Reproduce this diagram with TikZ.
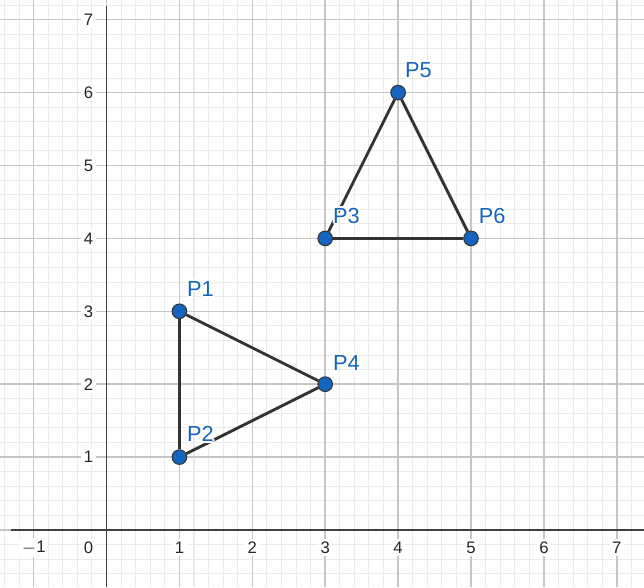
\documentclass[tikz,border=0pt]{standalone}
\usepackage{fontspec}
\setmainfont{Liberation Sans}
\usetikzlibrary{positioning}
\definecolor{ptblue}{RGB}{21,101,192}
% white halo behind point labels
\newcommand\halotext[1]{%
  \rlap{\color{white}\foreach \hx/\hy in {0.7pt/0pt,-0.7pt/0pt,0pt/0.7pt,0pt/-0.7pt,0.5pt/0.5pt,-0.5pt/0.5pt,0.5pt/-0.5pt,-0.5pt/-0.5pt}{\rlap{\kern\hx\raisebox{\hy}{#1}}}}#1}
\tikzset{
  minorgrid/.style={gray!16, line width=0.4pt},
  majorgrid/.style={gray!45, line width=0.6pt},
  axisline/.style={black!75, line width=0.5pt},
  ticklabel/.style={fill=white, inner sep=1pt, text=black!85, font=\fontsize{6.5}{8}\selectfont},
  edge/.style={black!80, line width=1.1pt},
  pt/.style={circle, fill=ptblue, draw=black!80, line width=0.4pt, minimum size=5.7pt, inner sep=0pt},
  ptlabel/.style={anchor=base west, inner sep=0pt, text=ptblue, font=\fontsize{8.5}{10}\selectfont}
}
\begin{document}
\begin{tikzpicture}
  \useasboundingbox (-1.461, -0.782) rectangle (7.373, 7.270);

  % Grid
  \draw[minorgrid, step=0.2] (-1.461, -0.782) grid (7.373, 7.270);
  \draw[majorgrid, step=1] (-1.461, -0.782) grid (7.373, 7.270);

  % Tick labels on x-axis
  \node[ticklabel] (xm1) at (-1, -0.24) {$-$1};
  \foreach \x in {1,...,7}
    \node[ticklabel] (x\x) at (\x, -0.24) {\x};
  \node[ticklabel, anchor=east] (o) at (-0.14, -0.24) {0};

  % Tick labels on y-axis
  \foreach \y in {1,...,7}
    \node[ticklabel, anchor=east] (y\y) at (-0.14, \y) {\y};

  % Axes
  \draw[axisline] (-1.31, 0) -- (7.373, 0);
  \draw[axisline] (0, -0.782) -- (0, 7.19);

  % Points
  \node[pt] (P1) at (1, 3) {};
  \node[pt] (P2) at (1, 1) {};
  \node[pt] (P3) at (3, 4) {};
  \node[pt] (P4) at (3, 2) {};
  \node[pt] (P5) at (4, 6) {};
  \node[pt] (P6) at (5, 4) {};

  % Triangles
  \draw[edge] (P1) -- (P2);
  \draw[edge] (P2) -- (P4);
  \draw[edge] (P4) -- (P1);
  \draw[edge] (P3) -- (P5);
  \draw[edge] (P5) -- (P6);
  \draw[edge] (P6) -- (P3);

  % Point labels
  \node[ptlabel] (L1) at (1.10, 3.20) {\halotext{P1}};
  \node[ptlabel] (L2) at (1.10, 1.21) {\halotext{P2}};
  \node[ptlabel] (L3) at (3.10, 4.21) {\halotext{P3}};
  \node[ptlabel] (L4) at (3.10, 2.19) {\halotext{P4}};
  \node[ptlabel] (L5) at (4.09, 6.21) {\halotext{P5}};
  \node[ptlabel] (L6) at (5.10, 4.21) {\halotext{P6}};
\end{tikzpicture}
\end{document}
